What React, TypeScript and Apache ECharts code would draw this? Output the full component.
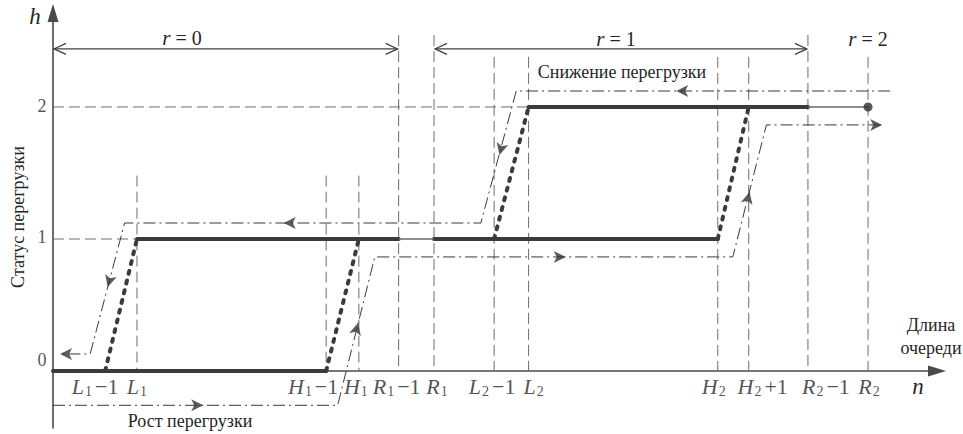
import React, { useEffect, useRef } from "react";
import * as echarts from "echarts";

const SERIF = "'Liberation Serif', 'Times New Roman', serif";
const INK = "#262626";
const STATE = "#3b3b3b";
const GUIDE = "#6c6c6c";
const TRAIL = "#3a3a3a";

// Queue-length thresholds along n (schematic units)
const thresholdNames = ["L1-1", "L1", "H1-1", "H1", "R1-1", "R1", "L2-1", "L2", "H2", "H2+1", "R2-1", "R2"];
const thresholdX = [5.9, 9.5, 30.9, 34.6, 39.1, 43.1, 49.9, 53.8, 75.2, 78.7, 85.4, 92.2];
// upper end (in h) of the vertical guide at each threshold; null = no guide
const guideTop = [null, 1.48, 1.48, 1.48, 2.545, 2.545, 2.38, 2.38, 2.38, 2.38, 2.545, 2.38];

// tick label pieces: italic letter, subscript, suffix
const tickLetter = ["L", "L", "H", "H", "R", "R", "L", "L", "H", "H", "R", "R"];
const tickIndex = ["1", "1", "1", "1", "1", "1", "2", "2", "2", "2", "2", "2"];
const tickSuffix = ["\u22121", "", "\u22121", "", "\u22121", "", "\u22121", "", "", "+1", "\u22121", ""];
const tickShift = [-10, 0, -13, -3, -2, 3, -2, 5, -4, 14, 18, 1];

// overload status levels h
const levels = [0, 1, 2];
const levelLabelShift = [-11, -2, -1];

// horizontal guides: level -> threshold where they stop
const guideLevel = [1, 2];
const guideEnd = ["L1", "L2"];

// status held constant (solid)
const holdStart = ["0", "L1", "R1", "L2"];
const holdEnd = ["H1-1", "R1-1", "H2", "R2-1"];
const holdLevel = [0, 1, 1, 2];

// status switching (dotted)
const switchStart = ["L1-1", "H1-1", "L2-1", "H2"];
const switchEnd = ["L1", "H1", "L2", "H2+1"];
const switchFrom = [0, 0, 1, 1];
const switchTo = [1, 1, 2, 2];

// thin links between regimes
const linkStart = ["R1-1", "R2-1"];
const linkEnd = ["R1", "R2"];
const linkLevel = [1, 2];

// trajectory while the load grows
const riseN = [0, 32.2, 36.4, 76.9, 80.7, 93.8];
const riseH = [-0.26, -0.26, 0.864, 0.864, 1.864, 1.864];
const riseArrowN = [17.0, 34.5, 58.0, 78.8, 93.8];
const riseArrowH = [-0.26, 0.364, 0.864, 1.356, 1.864];
const riseArrowAngle = [-90, -14, -90, -14, -90];

// trajectory while the load falls
const fallN = [94.7, 52.4, 48.4, 8.1, 4.2, 0.8];
const fallH = [2.121, 2.121, 1.121, 1.121, 0.129, 0.129];
const fallArrowN = [70.5, 50.5, 26.1, 6.2, 0.8];
const fallArrowH = [2.121, 1.636, 1.121, 0.636, 0.129];
const fallArrowAngle = [90, 165, 90, 165, 90];

// regime ranges r
const rangeStart = ["0", "R1"];
const rangeEnd = ["R1-1", "R2-1"];
const rangeLevel = 2.44;

const at = (name: string): number =>
  name === "0" ? 0 : thresholdX[thresholdNames.indexOf(name)];

function buildOption(): any {
  const series: any[] = [];

  // vertical guides
  series.push({
    type: "custom",
    z: 1,
    silent: true,
    data: thresholdX
      .map((x, i) => (guideTop[i] == null ? null : [x, guideTop[i] as number]))
      .filter((d) => d !== null),
    renderItem: (_p: any, api: any) => {
      const a = api.coord([api.value(0), api.value(1)]);
      const b = api.coord([api.value(0), 0]);
      return {
        type: "line",
        shape: { x1: a[0], y1: a[1], x2: b[0], y2: b[1] },
        style: { stroke: GUIDE, lineWidth: 1, lineDash: [11, 5] },
      };
    },
  });

  // horizontal guides
  series.push({
    type: "custom",
    z: 1,
    silent: true,
    data: guideLevel.map((h, i) => [at(guideEnd[i]), h]),
    renderItem: (_p: any, api: any) => {
      const a = api.coord([0, api.value(1)]);
      const b = api.coord([api.value(0), api.value(1)]);
      return {
        type: "line",
        shape: { x1: a[0], y1: a[1], x2: b[0], y2: b[1] },
        style: { stroke: GUIDE, lineWidth: 1, lineDash: [11, 5] },
      };
    },
  });

  // regime ranges with open arrowheads
  series.push({
    type: "custom",
    z: 2,
    silent: true,
    data: rangeStart.map((s, i) => [at(s), rangeLevel, at(rangeEnd[i])]),
    renderItem: (_p: any, api: any) => {
      const a = api.coord([api.value(0), api.value(1)]);
      const b = api.coord([api.value(2), api.value(1)]);
      const st = { stroke: "#404040", lineWidth: 1.2, fill: "none" };
      return {
        type: "group",
        children: [
          { type: "line", shape: { x1: a[0] + 1, y1: a[1], x2: b[0] - 1, y2: b[1] }, style: st },
          {
            type: "polyline",
            shape: { points: [[a[0] + 13, a[1] - 5.5], [a[0] + 1, a[1]], [a[0] + 13, a[1] + 5.5]] },
            style: st,
          },
          {
            type: "polyline",
            shape: { points: [[b[0] - 13, b[1] - 5.5], [b[0] - 1, b[1]], [b[0] - 13, b[1] + 5.5]] },
            style: st,
          },
        ],
      };
    },
  });

  const dashDot = { color: TRAIL, width: 1, type: [12, 4, 2, 4] };
  series.push({
    type: "line",
    z: 3,
    silent: true,
    symbol: "none",
    data: riseN.map((n, i) => [n, riseH[i]]),
    lineStyle: dashDot,
  });
  series.push({
    type: "line",
    z: 3,
    silent: true,
    symbol: "none",
    data: fallN.map((n, i) => [n, fallH[i]]),
    lineStyle: dashDot,
  });

  // direction arrows on both trajectories
  series.push({
    type: "scatter",
    z: 4,
    silent: true,
    symbol: "arrow",
    symbolSize: [9, 12],
    itemStyle: { color: "#333" },
    data: [
      ...riseArrowN.map((n, i) => ({ value: [n, riseArrowH[i]], symbolRotate: riseArrowAngle[i] })),
      ...fallArrowN.map((n, i) => ({ value: [n, fallArrowH[i]], symbolRotate: fallArrowAngle[i] })),
    ],
  });

  // held status
  holdStart.forEach((s, i) => {
    series.push({
      type: "line",
      z: 5,
      silent: true,
      symbol: "none",
      data: [
        [at(s), holdLevel[i]],
        [at(holdEnd[i]), holdLevel[i]],
      ],
      lineStyle: { color: STATE, width: 4, cap: "round" },
    });
  });

  // switching
  switchStart.forEach((s, i) => {
    series.push({
      type: "line",
      z: 5,
      silent: true,
      symbol: "none",
      data: [
        [at(s), switchFrom[i]],
        [at(switchEnd[i]), switchTo[i]],
      ],
      lineStyle: { color: STATE, width: 4, type: [3, 7], cap: "round" },
    });
  });

  // thin links
  linkStart.forEach((s, i) => {
    series.push({
      type: "line",
      z: 5,
      silent: true,
      symbol: "none",
      data: [
        [at(s), linkLevel[i]],
        [at(linkEnd[i]), linkLevel[i]],
      ],
      lineStyle: { color: "#6a6a6a", width: 1.5 },
    });
  });

  // end point of the last regime
  series.push({
    type: "scatter",
    z: 6,
    silent: true,
    symbol: "circle",
    symbolSize: 9,
    itemStyle: { color: "#2e2e2e" },
    data: [[at("R2"), 2]],
  });

  // threshold labels under the n axis
  series.push({
    type: "scatter",
    z: 6,
    silent: true,
    symbolSize: 1,
    itemStyle: { color: "transparent" },
    data: thresholdX.map((x, i) => ({ value: [x, 0], label: { offset: [tickShift[i], 0] } })),
    label: {
      show: true,
      position: "bottom",
      distance: 3,
      formatter: (p: any) => {
        const i = p.dataIndex;
        const suf = tickSuffix[i] ? `{t|${tickSuffix[i]}}` : "";
        return `{v|${tickLetter[i]}}{s|${tickIndex[i]}}${suf}`;
      },
      rich: {
        v: { fontFamily: SERIF, fontStyle: "italic", fontSize: 22, color: INK },
        s: { fontFamily: SERIF, fontSize: 14, color: INK, padding: [10, 0, 0, 1] },
        t: { fontFamily: SERIF, fontSize: 22, color: INK, padding: [0, 0, 0, 3] },
      },
    },
  });

  // level labels beside the h axis
  series.push({
    type: "scatter",
    z: 6,
    silent: true,
    symbolSize: 1,
    itemStyle: { color: "transparent" },
    data: levels.map((h, i) => ({ value: [0, h], label: { offset: [0, levelLabelShift[i]] } })),
    label: {
      show: true,
      position: "left",
      distance: 6,
      formatter: (p: any) => String(levels[p.dataIndex]),
      fontFamily: SERIF,
      fontSize: 18,
      color: INK,
    },
  });

  const txt = (x: number, y: number, text: string, size: number, extra: any = {}) => ({
    type: "text",
    x,
    y,
    silent: true,
    ...extra,
    style: {
      text,
      fontFamily: SERIF,
      fontSize: size,
      fontStyle: extra.italic ? "italic" : "normal",
      fill: INK,
      align: "center",
      verticalAlign: "middle",
      textAlign: "center",
      textVerticalAlign: "middle",
      ...(extra.style || {}),
    },
  });

  const rLabel = (x: number, y: number, k: string) =>
    txt(x, y, `{i|r} = ${k}`, 20, {
      style: {
        rich: { i: { fontFamily: SERIF, fontStyle: "italic", fontSize: 21, fill: INK } },
      },
    });

  return {
    animation: false,
    backgroundColor: "#ffffff",
    grid: { left: 53, right: 26, top: 13, bottom: 6, containLabel: false },
    xAxis: {
      type: "value",
      min: 0,
      max: 100,
      axisLine: {
        show: true,
        onZero: true,
        symbol: ["none", "triangle"],
        symbolSize: [11, 18],
        lineStyle: { color: "#4a4a4a", width: 1.6 },
      },
      axisTick: { show: false },
      axisLabel: { show: false },
      splitLine: { show: false },
    },
    yAxis: {
      type: "value",
      min: -0.432,
      max: 2.712,
      axisLine: {
        show: true,
        onZero: true,
        symbol: ["none", "triangle"],
        symbolSize: [11, 18],
        lineStyle: { color: "#4a4a4a", width: 1.6 },
      },
      axisTick: { show: false },
      axisLabel: { show: false },
      splitLine: { show: false },
    },
    series,
    graphic: [
      txt(35, 16, "h", 23, { italic: true }),
      txt(918, 386, "n", 23, { italic: true }),
      txt(931, 336, "Длина\nочереди", 18, { style: { lineHeight: 23 } }),
      txt(18, 217, "Статус перегрузки", 18, { rotation: Math.PI / 2 }),
      txt(622, 72, "Снижение перегрузки", 18),
      txt(190, 421, "Рост перегрузки", 18),
      rLabel(182, 38, "0"),
      rLabel(616, 39, "1"),
      rLabel(868, 39, "2"),
    ],
  };
}

export default function App() {
  const ref = useRef<HTMLDivElement>(null);
  useEffect(() => {
    document.body.style.margin = "0";
    if (!ref.current) return;
    const chart = echarts.init(ref.current, undefined, { renderer: "svg" });
    chart.setOption(buildOption());
    return () => chart.dispose();
  }, []);
  return <div ref={ref} style={{ width: 963, height: 434 }} />;
}
